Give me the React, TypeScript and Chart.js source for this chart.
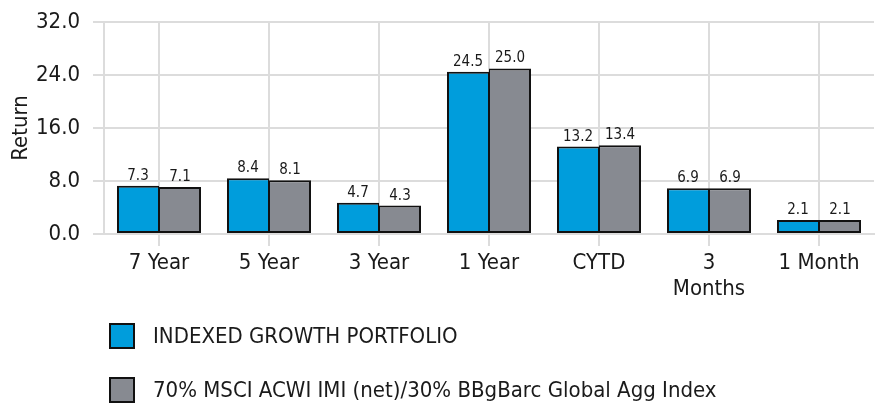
import React, { useEffect, useRef } from "react";
import { Chart, registerables } from "chart.js";

Chart.register(...registerables);

const categories: (string | string[])[] = ["7 Year", "5 Year", "3 Year", "1 Year", "CYTD", ["3", "Months"], "1 Month"];
const portfolioValues = [7.3, 8.4, 4.7, 24.5, 13.2, 6.9, 2.1];
const benchmarkValues = [7.1, 8.1, 4.3, 25.0, 13.4, 6.9, 2.1];
const seriesLabels = ["INDEXED GROWTH PORTFOLIO", "70% MSCI ACWI IMI (net)/30% BBgBarc Global Agg Index"];
const yTicks = [0, 8, 16, 24, 32];

const FONT = "'Liberation Sans Narrow', 'Arial Narrow', 'DejaVu Sans Condensed', sans-serif";
const BLUE = "#009ddc";
const GRAY = "#878a91";
const GRID = "#dcdcdc";
const TEXT = "#1a1a1a";

const dataLabelPlugin = {
  id: "dataLabels",
  afterDatasetsDraw(chart: any) {
    const ctx = chart.ctx;
    ctx.save();
    ctx.font = `15px ${FONT}`;
    ctx.fillStyle = TEXT;
    ctx.textAlign = "center";
    ctx.textBaseline = "alphabetic";
    chart.data.datasets.forEach((ds: any, di: number) => {
      const meta = chart.getDatasetMeta(di);
      meta.data.forEach((bar: any, i: number) => {
        ctx.fillText(Number(ds.data[i]).toFixed(1), bar.x, bar.y - 6);
      });
    });
    ctx.restore();
  },
};

const legendPlugin = {
  id: "customLegend",
  afterDraw(chart: any) {
    const ctx = chart.ctx;
    ctx.save();
    ctx.font = `22px ${FONT}`;
    ctx.textBaseline = "middle";
    ctx.textAlign = "left";
    chart.data.datasets.forEach((ds: any, di: number) => {
      const cy = 336 + di * 54;
      ctx.fillStyle = ds.backgroundColor;
      ctx.fillRect(110, cy - 12, 24, 24);
      ctx.strokeStyle = "#111";
      ctx.lineWidth = 2;
      ctx.strokeRect(110, cy - 12, 24, 24);
      ctx.fillStyle = TEXT;
      ctx.fillText(ds.label, 153, cy + 1);
    });
    ctx.restore();
  },
};

export default function App() {
  const ref = useRef<HTMLCanvasElement>(null);
  useEffect(() => {
    if (!ref.current) return;
    const chart = new Chart(ref.current, {
      type: "bar",
      data: {
        labels: categories,
        datasets: [
          {
            label: seriesLabels[0],
            data: portfolioValues,
            backgroundColor: BLUE,
            borderColor: "#111",
            borderWidth: { left: 2, top: 2, bottom: 2, right: 1 },
            borderSkipped: false,
            categoryPercentage: 0.764,
            barPercentage: 1,
          },
          {
            label: seriesLabels[1],
            data: benchmarkValues,
            backgroundColor: GRAY,
            borderColor: "#111",
            borderWidth: { left: 1, top: 2, bottom: 2, right: 2 },
            borderSkipped: false,
            categoryPercentage: 0.764,
            barPercentage: 1,
          },
        ],
      },
      options: {
        animation: false,
        responsive: false,
        layout: { padding: { top: 22, right: 1, bottom: 0, left: 0 } },
        plugins: {
          legend: { display: false },
          tooltip: { enabled: false },
        },
        scales: {
          x: {
            afterFit(scale: any) {
              scale.height = 172;
              scale.paddingLeft = 0;
              scale.paddingRight = 0;
            },
            grid: { offset: false, color: GRID, lineWidth: 2, tickLength: 12 },
            border: { color: GRID, width: 2 },
            ticks: { color: TEXT, font: { family: FONT, size: 22 }, padding: 4, maxRotation: 0 },
          },
          y: {
            min: 0,
            max: 32,
            afterBuildTicks(scale: any) {
              scale.ticks = yTicks.map((v) => ({ value: v }));
            },
            afterFit(scale: any) {
              scale.width = 104;
              scale.paddingTop = 0;
              scale.paddingBottom = 0;
            },
            grid: { color: GRID, lineWidth: 2, tickLength: 11 },
            border: { color: GRID, width: 2 },
            ticks: {
              color: TEXT,
              font: { family: FONT, size: 22 },
              padding: 13,
              callback: (v: any) => Number(v).toFixed(1),
            },
            title: {
              display: true,
              text: "Return",
              color: TEXT,
              font: { family: FONT, size: 22 },
              padding: 8,
            },
          },
        },
      },
      plugins: [dataLabelPlugin, legendPlugin],
    });
    return () => chart.destroy();
  }, []);
  return (
    <div style={{ position: "fixed", left: 0, top: 0, width: 875, height: 406, background: "#fff" }}>
      <canvas ref={ref} width={875} height={406} />
    </div>
  );
}
